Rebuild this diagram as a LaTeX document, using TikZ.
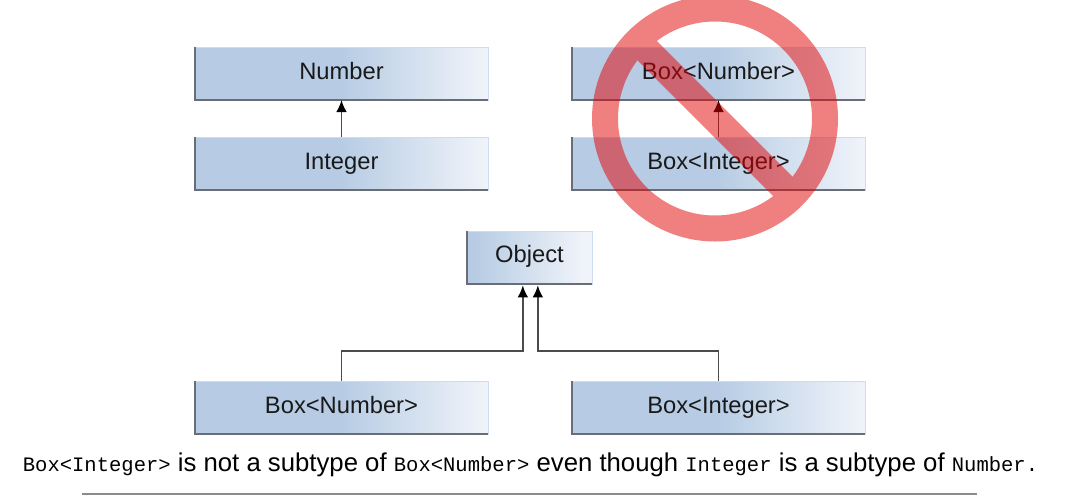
\documentclass[tikz,border=0pt]{standalone}
\usepackage{fontspec}
\setmainfont{Liberation Sans}
\setmonofont{Liberation Mono}
\usetikzlibrary{arrows.meta}

\definecolor{boxblue}{RGB}{183,204,228}
\definecolor{boxlight}{RGB}{240,244,250}
\definecolor{boxedge}{RGB}{205,220,238}
\definecolor{boxshadow}{RGB}{105,110,118}
\definecolor{arrowgray}{RGB}{75,75,75}
\definecolor{forbidred}{RGB}{226,0,0}

\pgfdeclarehorizontalshading{boxfade}{100bp}{color(0bp)=(boxblue); color(50bp)=(boxblue); color(75bp)=(boxlight); color(100bp)=(boxlight)}
\pgfdeclarehorizontalshading{objfade}{100bp}{color(0bp)=(boxblue); color(28bp)=(boxblue); color(72bp)=(boxlight); color(100bp)=(boxlight)}

\tikzset{
  typebox/.style={draw=boxedge, line width=0.6pt, shading=boxfade, minimum width=219.75pt, minimum height=39.75pt, inner sep=0pt, outer sep=0pt, text height=13pt, text depth=4.25pt, font=\fontsize{17.8pt}{20pt}\selectfont, text=black!90},
  objbox/.style={typebox, shading=objfade, minimum width=93.75pt, text height=12.5pt, text depth=5.5pt},
  edgeline/.style={draw=boxshadow, line width=1.4pt},
  subarrow/.style={draw=arrowgray, line width=1.3pt, -{Latex[length=9pt,width=8pt,black]}},
}

\begin{document}
\begin{tikzpicture}[x=0.75pt,y=-0.75pt]

    % Page size
    \useasboundingbox (0,0) rectangle (1080,496);

    % Boxes, top left
    \node[typebox] (number) at (341.5,73.5) {Number};
    \node[typebox] (integer) at (341.5,163.5) {Integer};

    % Boxes, top right
    \node[typebox] (boxnumber) at (718.5,73.5) {Box<Number>};
    \node[typebox] (boxinteger) at (718.5,163.5) {Box<Integer>};

    % Boxes, bottom
    \node[objbox] (object) at (529.5,257.5) {Object};
    \node[typebox] (lownumber) at (341.5,407.5) {Box<Number>};
    \node[typebox] (lowinteger) at (718.5,407.5) {Box<Integer>};

    % Dark left and bottom edges
    \foreach \boxname in {number,integer,boxnumber,boxinteger,object,lownumber,lowinteger}
      \draw[edgeline] (\boxname.north west) -- (\boxname.south west) -- (\boxname.south east);

    % Subtype arrows
    \draw[subarrow] (integer.north) -- (number.south);
    \draw[subarrow] (boxinteger.north) -- (boxnumber.south);

    % Arrows into Object
    \coordinate (objleft) at ([xshift=-5pt,yshift=-1pt]object.south);
    \coordinate (objright) at ([xshift=6.25pt,yshift=-1pt]object.south);
    \coordinate (lowleft) at ([yshift=22.5pt]lownumber.north);
    \coordinate (lowright) at ([yshift=22.5pt]lowinteger.north);
    \draw[subarrow] (lownumber.north) -- (lowleft) -| (objleft);
    \draw[subarrow] (lowinteger.north) -- (lowright) -| (objright);

    % No entry sign over the top right boxes
    \begin{scope}[transparency group, opacity=0.5]
      \node[circle, draw=forbidred, line width=19.5pt, minimum size=165pt, inner sep=0pt, outer sep=0pt] (forbid) at (715,118.5) {};
      \draw[forbidred, line width=20.5pt] (forbid.135) -- (forbid.-45);
    \end{scope}

    % Caption and rule
    \node[font=\fontsize{19.3pt}{23pt}\selectfont, inner sep=0pt] (caption) at (530.5,465) {{\ttfamily\fontsize{15.4pt}{23pt}\selectfont Box<Integer>} is not a subtype of {\ttfamily\fontsize{15.4pt}{23pt}\selectfont Box<Number>} even though {\ttfamily\fontsize{15.4pt}{23pt}\selectfont Integer} is a subtype of {\ttfamily\fontsize{15.4pt}{23pt}\selectfont Number.}};
    \coordinate (ruleleft) at (82,494);
    \coordinate (ruleright) at (977,494);
    \draw[draw=black!45, line width=1.3pt] (ruleleft) -- (ruleright);

  \end{tikzpicture}
\end{document}
